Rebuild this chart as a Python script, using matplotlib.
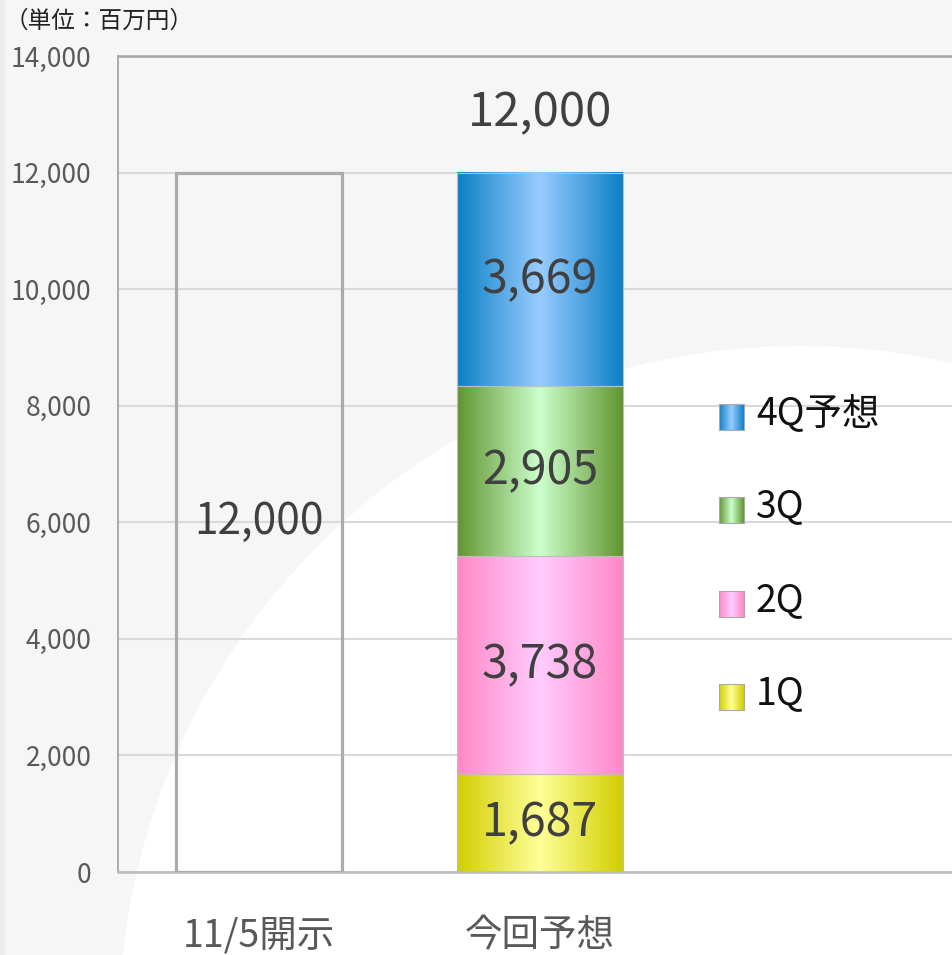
import numpy as np
import matplotlib
matplotlib.use('Agg')
import matplotlib.pyplot as plt
from matplotlib.patches import Ellipse, Rectangle
from matplotlib.colors import to_rgb

categories = ['11/5開示', '今回予想']
prev_forecast = [12000]
quarter_names = ['1Q', '2Q', '3Q', '4Q予想']
quarter_values = [1687, 3738, 2905, 3669]
totals = [12000, 12000]
y_ticks = [0, 2000, 4000, 6000, 8000, 10000, 12000, 14000]
unit_label = '（単位：百万円）'

# (edge colour, centre colour) for the horizontal gradients
quarter_colors = [('#d2ce00', '#ffff99'),
                  ('#ff88c6', '#ffccff'),
                  ('#62952f', '#ccffcc'),
                  ('#0c80c6', '#99ccff')]

W, H = 953, 955
BAR_W = 0.59


def gradient(edge, centre, n=256):
    t = np.linspace(0, 1, n)
    w = 1 - np.abs(2 * t - 1)
    e = np.array(to_rgb(edge))
    c = np.array(to_rgb(centre))
    row = e[None, :] + (c - e)[None, :] * w[:, None]
    return row[None, :, :]


def main():
    plt.rcParams['font.family'] = ['Noto Sans CJK JP', 'DejaVu Sans']

    fig = plt.figure(figsize=(W / 100, H / 100), dpi=100)
    fig.patch.set_facecolor('#f6f6f6')

    # background decoration: left strip and big white circle
    fig.patches.append(Rectangle((0, 0), 5 / W, 1, transform=fig.transFigure,
                                 facecolor='#ececec', edgecolor='none', zorder=-10))
    fig.patches.append(Ellipse((800 / W, (H - 1027) / H), 2 * 681 / W, 2 * 681 / H,
                               transform=fig.transFigure, facecolor='white',
                               edgecolor='none', zorder=-9))

    ax = fig.add_axes([118 / W, 83 / H, (990 - 118) / W, 816 / H])
    ax.set_facecolor('none')

    # previous forecast: outline only
    ax.bar(0, prev_forecast[0], width=BAR_W, fill=False, edgecolor='#aeaaab',
           linewidth=2.3, zorder=3)
    ax.text(0, prev_forecast[0] / 2, '{:,}'.format(prev_forecast[0]), ha='center',
            va='center', fontsize=30.5, color='#404040', zorder=4)

    # current forecast: stacked quarters with gradient fills
    bottom = 0
    for v, (edge, centre) in zip(quarter_values, quarter_colors):
        bar = ax.bar(1, v, bottom=bottom, width=BAR_W, color='none',
                     edgecolor='#bdbdbd', linewidth=0.8, zorder=3)[0]
        x0, y0 = bar.get_x(), bar.get_y()
        ax.imshow(gradient(edge, centre), extent=[x0, x0 + bar.get_width(), y0, y0 + bar.get_height()],
                  aspect='auto', interpolation='bilinear', zorder=2)
        ax.text(1, bottom + v / 2, '{:,}'.format(v), ha='center', va='center',
                fontsize=33.5, color='#404040', zorder=4)
        bottom += v

    ax.annotate('{:,}'.format(totals[1]), xy=(1, totals[1]), xytext=(0, 43),
                textcoords='offset points', ha='center', va='center',
                fontsize=34, color='#404040')

    ax.set_xlim(-0.5, 2.6)
    ax.set_ylim(0, 14000)
    ax.set_yticks(y_ticks)
    ax.set_yticklabels(['{:,}'.format(t) for t in y_ticks])
    ax.set_xticks([0, 1])
    ax.set_xticklabels(categories)
    ax.tick_params(axis='y', length=0, pad=19, labelsize=19, labelcolor='#595959')
    ax.tick_params(axis='x', length=0, pad=32, labelsize=27, labelcolor='#595959')

    ax.grid(axis='y', color='#d9d9d9', linewidth=1.5, zorder=0)
    ax.set_axisbelow(True)
    ax.spines['top'].set_color('#a6a6a6')
    ax.spines['top'].set_linewidth(1.8)
    ax.spines['left'].set_color('#a6a6a6')
    ax.spines['left'].set_linewidth(1.3)
    ax.spines['bottom'].set_color('#bcbcbc')
    ax.spines['bottom'].set_linewidth(1.8)
    ax.spines['right'].set_visible(False)

    fig.text(5 / W, 1 - 21 / H, unit_label, ha='left', va='center',
             fontsize=17, color='#222222')

    # legend, top entry first
    order = list(range(len(quarter_names)))[::-1]
    for i, k in enumerate(order):
        cy = 417 + i * 93.3
        sw = fig.add_axes([719 / W, (H - cy - 13) / H, 25 / W, 26 / H])
        sw.imshow(gradient(*quarter_colors[k]), aspect='auto', interpolation='bilinear')
        sw.set_xticks([])
        sw.set_yticks([])
        for s in sw.spines.values():
            s.set_color('#aaaaaa')
            s.set_linewidth(0.8)
        fig.text(756 / W, (H - cy - 7) / H, quarter_names[k], ha='left',
                 va='baseline', fontsize=27, color='#111111')

    fig.savefig('out.png', dpi=100, facecolor=fig.get_facecolor())


if __name__ == '__main__':
    main()
